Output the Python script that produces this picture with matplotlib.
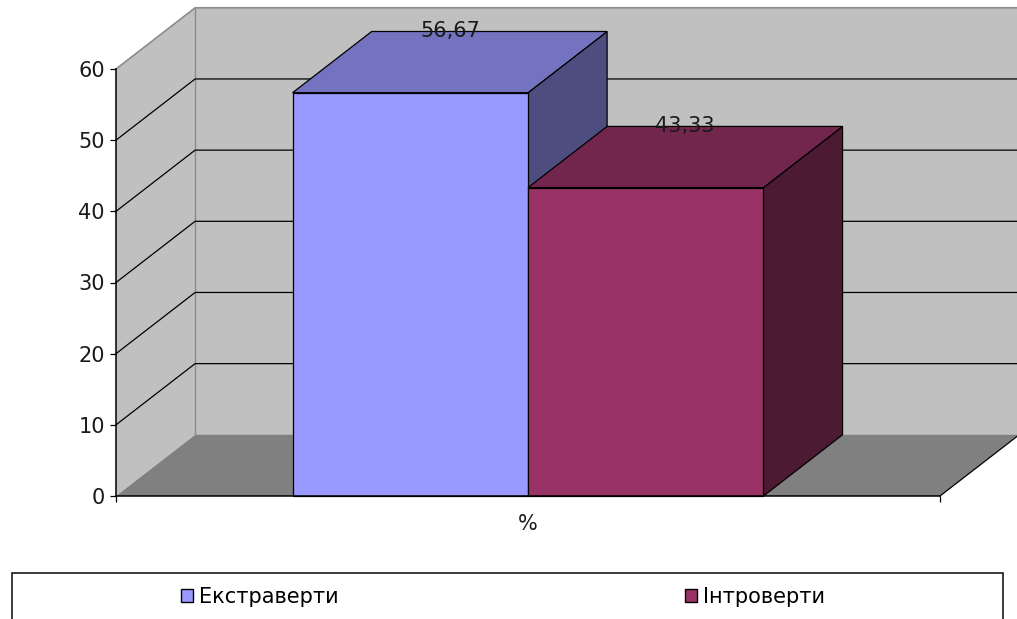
import matplotlib
matplotlib.use('Agg')
import matplotlib.pyplot as plt
from matplotlib.patches import Polygon, Rectangle, Patch

# Data
CATEGORY = '%'
SERIES = ['Екстраверти', 'Інтроверти']
VALUES = [56.67, 43.33]
LABELS = ['56,67', '43,33']
Y_TICKS = [0, 10, 20, 30, 40, 50, 60]

# Colours (front, top, side) per series
FRONT_COLORS = ['#9999FF', '#993366']
TOP_COLORS = ['#7373BF', '#73264D']
SIDE_COLORS = ['#4D4D80', '#4D1A33']
WALL_COLOR = '#C0C0C0'
FLOOR_COLOR = '#808080'
EDGE_GRAY = '#8C8C8C'

# 3D depth offset in data units (category units, value units)
DX = 0.096
DY = 8.6
GAP_WIDTH = 1.5  # gap between bar groups relative to one bar
FONT_SIZE = 15
LINE_W = 0.9

fig = plt.figure(figsize=(10.17, 6.19), dpi=100)
ax = fig.add_axes([116 / 1017, 123 / 619, 824 / 1017, 427 / 619])
ax.set_xlim(0, 1)
ax.set_ylim(0, 60)

ymax = Y_TICKS[-1]

# walls and floor
left_wall = Polygon([(0, 0), (0, ymax), (DX, ymax + DY), (DX, DY)],
                    closed=True, facecolor=WALL_COLOR, edgecolor='none', zorder=0)
back_wall = Polygon([(DX, DY), (DX, ymax + DY), (1 + DX, ymax + DY), (1 + DX, DY)],
                    closed=True, facecolor=WALL_COLOR, edgecolor='none', zorder=0)
floor = Polygon([(0, 0), (1, 0), (1 + DX, DY), (DX, DY)],
                closed=True, facecolor=FLOOR_COLOR, edgecolor='none', zorder=0)
for p in (left_wall, back_wall, floor):
    p.set_clip_on(False)
    ax.add_patch(p)

# wall borders
ax.plot([0, DX, 1 + DX], [ymax, ymax + DY, ymax + DY], color=EDGE_GRAY,
        linewidth=1.2, clip_on=False, zorder=1)
ax.plot([DX, DX], [DY, ymax + DY], color=EDGE_GRAY, linewidth=1.0,
        clip_on=False, zorder=1)

# gridlines on back and side walls
for v in Y_TICKS[1:-1]:
    ax.plot([0, DX, 1 + DX], [v, v + DY, v + DY], color='black',
            linewidth=LINE_W, clip_on=False, zorder=1)

# floor right edge
ax.plot([1, 1 + DX], [0, DY], color='black', linewidth=LINE_W, clip_on=False, zorder=1)

# bars
n = len(VALUES)
bar_w = 1.0 / (n + GAP_WIDTH)
start = GAP_WIDTH * bar_w / 2
for i, v in enumerate(VALUES):
    x0 = start + i * bar_w
    x1 = x0 + bar_w
    front = Polygon([(x0, 0), (x1, 0), (x1, v), (x0, v)], closed=True,
                    facecolor=FRONT_COLORS[i], edgecolor='black', linewidth=LINE_W)
    top = Polygon([(x0, v), (x1, v), (x1 + DX, v + DY), (x0 + DX, v + DY)], closed=True,
                  facecolor=TOP_COLORS[i], edgecolor='black', linewidth=LINE_W)
    side = Polygon([(x1, 0), (x1 + DX, DY), (x1 + DX, v + DY), (x1, v)], closed=True,
                   facecolor=SIDE_COLORS[i], edgecolor='black', linewidth=LINE_W)
    for p in (side, top, front):
        p.set_zorder(2 + i)
        p.set_clip_on(False)
        ax.add_patch(p)
    ax.text((x0 + x1) / 2 + DX / 2, v + DY, LABELS[i], ha='center', va='center',
            fontsize=FONT_SIZE, color='#1a1a1a', zorder=10)

# axes
for side_name in ('top', 'right'):
    ax.spines[side_name].set_visible(False)
for side_name in ('left', 'bottom'):
    ax.spines[side_name].set_color('black')
    ax.spines[side_name].set_linewidth(1.1)
    ax.spines[side_name].set_zorder(6)
ax.set_facecolor('none')
ax.set_yticks(Y_TICKS)
ax.set_yticklabels([str(t) for t in Y_TICKS])
ax.set_xticks([0, 1])
ax.set_xticklabels(['', ''])
ax.set_xticks([0.5], minor=True)
ax.set_xticklabels([CATEGORY], minor=True)
ax.tick_params(axis='y', direction='out', length=4, width=0.9, pad=4,
               labelsize=FONT_SIZE, labelcolor='#1a1a1a')
ax.tick_params(axis='x', which='major', direction='out', length=4, width=0.9)
ax.tick_params(axis='x', which='minor', length=0, pad=13,
               labelsize=FONT_SIZE, labelcolor='#1a1a1a')

# legend box (runs off the bottom edge) with one entry centred in each half
box_left, box_right = 12 / 1017, 1003 / 1017
box_top = (619 - 573) / 619
box_bottom = -0.1
fig.patches.append(Rectangle((box_left, box_bottom), box_right - box_left,
                             box_top - box_bottom, transform=fig.transFigure,
                             facecolor='white', edgecolor='#1a1a1a', linewidth=1.2))
half = (box_right - box_left) / n
for i, name in enumerate(SERIES):
    handle = Patch(facecolor=FRONT_COLORS[i], edgecolor='black', linewidth=1.0)
    fig.legend([handle], [name], loc='center',
               bbox_to_anchor=(box_left + half * (i + 0.5), 22 / 619),
               frameon=False, fontsize=FONT_SIZE, handlelength=0.55,
               handleheight=0.55, handletextpad=0.3, borderpad=0)

fig.savefig('out.png', dpi=100)
